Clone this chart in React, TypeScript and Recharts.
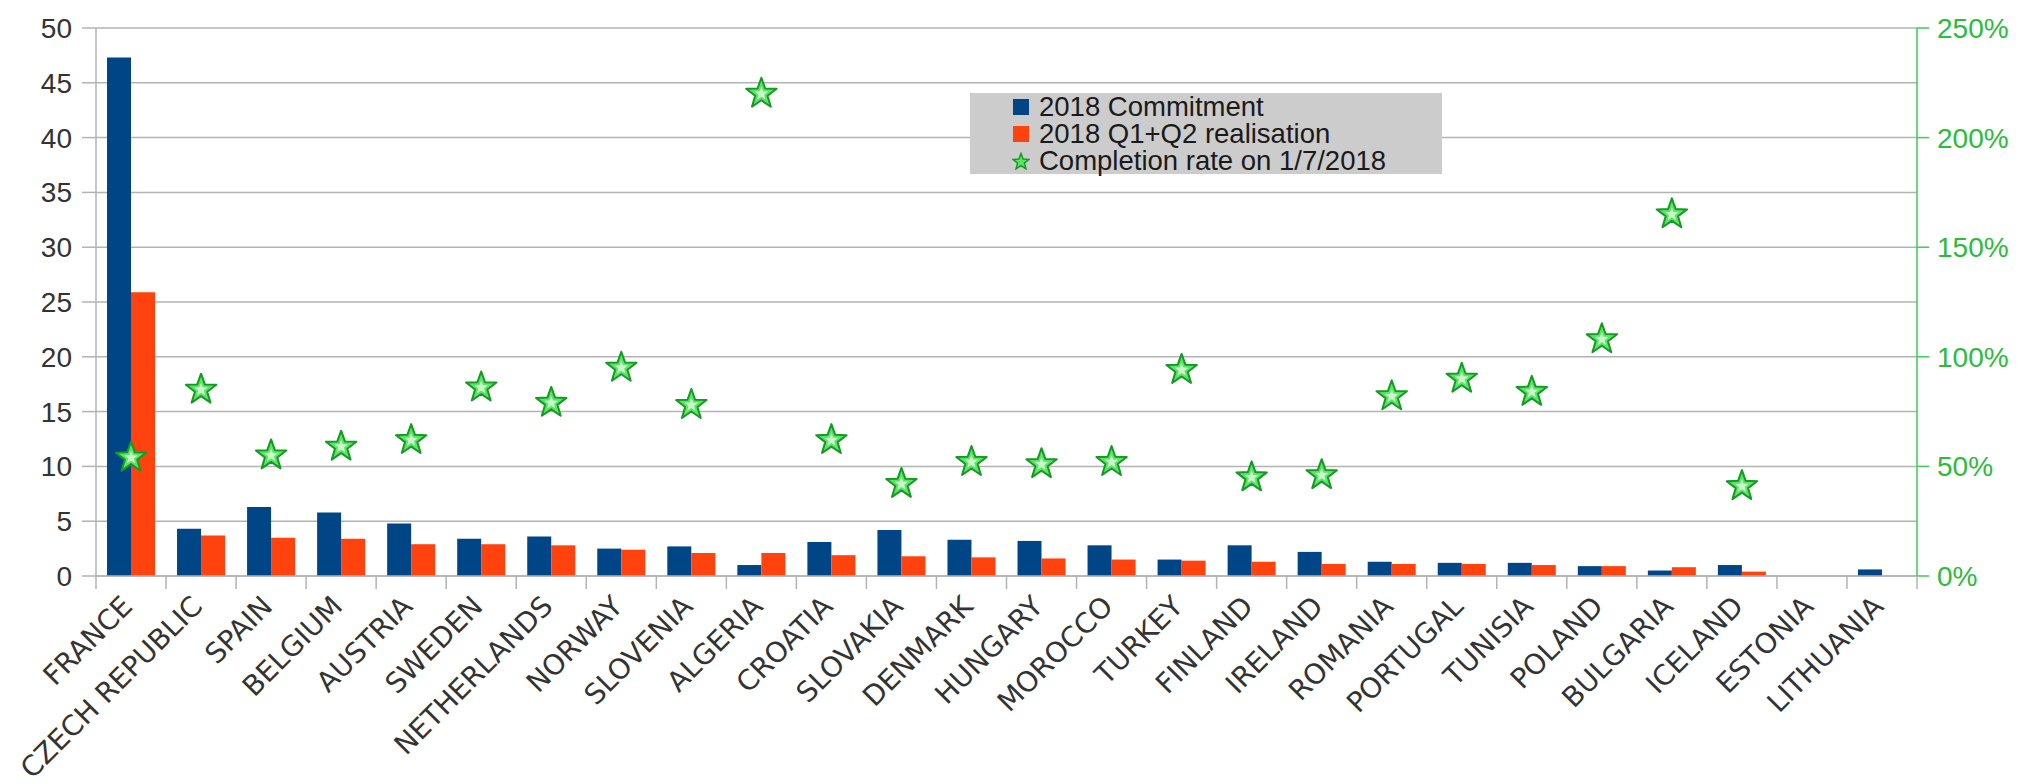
import React from 'react'
import { ComposedChart, Bar, Scatter, XAxis, YAxis, CartesianGrid, Legend } from 'recharts'

const countries = [
  'FRANCE', 'CZECH REPUBLIC', 'SPAIN', 'BELGIUM', 'AUSTRIA', 'SWEDEN', 'NETHERLANDS', 'NORWAY',
  'SLOVENIA', 'ALGERIA', 'CROATIA', 'SLOVAKIA', 'DENMARK', 'HUNGARY', 'MOROCCO', 'TURKEY',
  'FINLAND', 'IRELAND', 'ROMANIA', 'PORTUGAL', 'TUNISIA', 'POLAND', 'BULGARIA', 'ICELAND',
  'ESTONIA', 'LITHUANIA',
]
const commitment = [
  47.3, 4.3, 6.3, 5.8, 4.8, 3.4, 3.6, 2.5, 2.7, 1.0, 3.1, 4.2, 3.3, 3.2, 2.8, 1.5,
  2.8, 2.2, 1.3, 1.2, 1.2, 0.9, 0.5, 1.0, 0, 0.6,
]
const realisation = [
  25.9, 3.7, 3.5, 3.4, 2.9, 2.9, 2.8, 2.4, 2.1, 2.1, 1.9, 1.8, 1.7, 1.6, 1.5, 1.4,
  1.3, 1.1, 1.1, 1.1, 1.0, 0.9, 0.8, 0.4, 0, 0,
]
// completion rate in %, null where nothing is plotted
const completion: (number | null)[] = [
  54, 85, 55, 59, 62, 86, 79, 95, 78, 220, 62, 42, 52, 51, 52, 94,
  45, 46, 82, 90, 84, 108, 165, 41, null, null,
]
const leftTicks = [0, 5, 10, 15, 20, 25, 30, 35, 40, 45, 50]
const rightTicks = [0, 50, 100, 150, 200, 250]

const data = countries.map((name, i) => ({
  name,
  commitment: commitment[i],
  realisation: realisation[i],
  rate: completion[i],
}))

const W = 2024
const H = 784
const LEFT_W = 96
const RIGHT_W = 107
const CAT = (W - LEFT_W - RIGHT_W) / countries.length
const FONT = "'Liberation Sans', Arial, sans-serif"
const LABEL_FONT = "'DejaVu Sans', 'Liberation Sans', sans-serif"
const BLUE = '#004586'
const ORANGE = '#ff420e'
const GREEN = '#2cbb3a'
const GRID = '#b3b3b3'

function starPoints(cx: number, cy: number, r: number, ri: number) {
  const pts: string[] = []
  for (let k = 0; k < 10; k++) {
    const rad = k % 2 === 0 ? r : ri
    const a = -Math.PI / 2 + (k * Math.PI) / 5
    pts.push(`${cx + rad * Math.cos(a)},${cy + rad * Math.sin(a)}`)
  }
  return pts.join(' ')
}

const StarShape = (props: any) => {
  const { cx, cy, payload } = props
  if (payload == null || payload.rate == null || cx == null || cy == null) return <g />
  return (
    <g>
      <polygon points={starPoints(cx, cy, 16, 6.5)} fill="#5ee36a" stroke="#139b22" strokeWidth={2} strokeLinejoin="round" />
      <polygon points={starPoints(cx, cy, 7, 3)} fill="#c8f7c8" stroke="none" />
    </g>
  )
}

const CategoryTick = (props: any) => {
  const { x, y, payload, index } = props
  const tx = x + 3
  const ty = y + 32
  return (
    <g>
      <line x1={x - CAT / 2} y1={y} x2={x - CAT / 2} y2={y + 13} stroke={GRID} strokeWidth={1.5} />
      {index === countries.length - 1 && (
        <line x1={x + CAT / 2} y1={y} x2={x + CAT / 2} y2={y + 13} stroke={GRID} strokeWidth={1.5} />
      )}
      <text
        x={tx}
        y={ty}
        transform={`rotate(-45, ${tx}, ${ty})`}
        textAnchor="end"
        fill="#333333"
        fontSize={28}
        fontFamily={LABEL_FONT}
      >
        {payload.value}
      </text>
    </g>
  )
}

const LegendBox = () => {
  const rows = [
    { label: '2018 Commitment', kind: 'square', color: BLUE },
    { label: '2018 Q1+Q2 realisation', kind: 'square', color: ORANGE },
    { label: 'Completion rate on 1/7/2018', kind: 'star', color: GREEN },
  ]
  return (
    <div style={{ background: '#cccccc', width: 472, height: 81, fontFamily: FONT, fontSize: 27.5, color: '#1a1a1a' }}>
      {rows.map((r) => (
        <div key={r.label} style={{ display: 'flex', alignItems: 'center', height: 27, lineHeight: '27px' }}>
          <svg width={18} height={18} style={{ marginLeft: 42, marginRight: 9 }}>
            {r.kind === 'square' ? (
              <rect x={1} y={1} width={16} height={16} fill={r.color} />
            ) : (
              <polygon points={starPoints(9, 10, 8.5, 3.6)} fill="#5ee36a" stroke="#139b22" strokeWidth={1.5} />
            )}
          </svg>
          <span>{r.label}</span>
        </div>
      ))}
    </div>
  )
}

export default function App() {
  return (
    <div style={{ position: 'absolute', left: 0, top: 0, width: W, height: H, background: '#fff' }}>
      <ComposedChart
        width={W}
        height={H}
        data={data}
        margin={{ top: 28, right: 0, bottom: 0, left: 0 }}
        barCategoryGap={11}
        barGap={0}
      >
        <CartesianGrid yAxisId="left" vertical={false} stroke={GRID} strokeWidth={1.5} />
        <XAxis
          dataKey="name"
          height={208}
          interval={0}
          tickSize={0}
          tickMargin={0}
          tickLine={false}
          axisLine={{ stroke: GRID, strokeWidth: 1.5 }}
          tick={<CategoryTick />}
        />
        <YAxis
          yAxisId="left"
          width={LEFT_W}
          domain={[0, 50]}
          ticks={leftTicks}
          interval={0}
          tickSize={14}
          tickMargin={10}
          axisLine={{ stroke: GRID, strokeWidth: 1.5 }}
          tickLine={{ stroke: GRID, strokeWidth: 1.5 }}
          tick={{ fill: '#333333', fontSize: 28, fontFamily: FONT }}
        />
        <YAxis
          yAxisId="right"
          orientation="right"
          width={RIGHT_W}
          domain={[0, 250]}
          ticks={rightTicks}
          interval={0}
          tickSize={12}
          tickMargin={8}
          tickFormatter={(v: number) => `${v}%`}
          axisLine={{ stroke: '#3dcc55', strokeWidth: 1.5 }}
          tickLine={{ stroke: '#3dcc55', strokeWidth: 1.5 }}
          tick={{ fill: GREEN, fontSize: 28, fontFamily: FONT }}
        />
        <Legend
          layout="vertical"
          align="center"
          verticalAlign="middle"
          content={<LegendBox />}
          wrapperStyle={{ left: 970, top: 93, width: 472, height: 81 }}
        />
        <Bar yAxisId="left" dataKey="commitment" name="2018 Commitment" fill={BLUE} isAnimationActive={false} />
        <Bar yAxisId="left" dataKey="realisation" name="2018 Q1+Q2 realisation" fill={ORANGE} isAnimationActive={false} />
        <Scatter yAxisId="right" dataKey="rate" name="Completion rate on 1/7/2018" shape={<StarShape />} isAnimationActive={false} />
      </ComposedChart>
    </div>
  )
}
